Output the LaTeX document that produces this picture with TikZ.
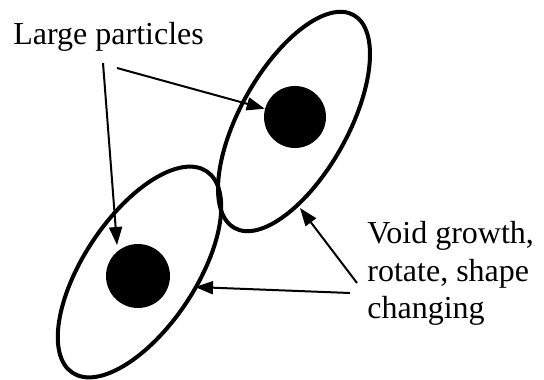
\documentclass[tikz,border=0pt]{standalone}
\usepackage{fontspec}
\setmainfont{Liberation Serif}
\usetikzlibrary{arrows.meta,shapes.geometric}

\begin{document}
\begin{tikzpicture}[
  x=0.5pt, y=-0.5pt,
  >={Triangle[length=9pt,width=6.5pt]},
  void/.style={draw, ellipse, line width=2pt, inner sep=0pt, outer sep=0pt},
  particle/.style={circle, fill=black, inner sep=0pt},
  lbl/.style={font=\fontsize{16}{18.75}\selectfont, inner sep=0pt, align=left},
  pointer/.style={->, line width=1pt}
]
\useasboundingbox (0,0) rectangle (544,379);
% voids and particles
\node[void, minimum width=122pt, minimum height=54pt, rotate=60.75] (upvoid) at (294,121.5) {};
\node[void, minimum width=121pt, minimum height=56pt, rotate=56.3] (lowvoid) at (139.5,272) {};
\node[particle, minimum size=31pt] (upparticle) at (295,117) {};
\node[particle, minimum size=32pt] (lowparticle) at (138,276) {};
% labels
\node[lbl, anchor=base west] (large) at (13,45) {Large particles};
\node[lbl, anchor=north west] (growth) at (367,221) {Void growth,\\rotate, shape\\changing};
% arrows
\coordinate (largeright) at (117,68);
\coordinate (largeleft) at (103,63);
\coordinate (lowtip) at (117,245);
\coordinate (growthup) at (357,283);
\coordinate (growthlow) at (350,293);
\coordinate (uptip) at (300,208);
\coordinate (sidetip) at (195,287);
\draw[pointer] (largeright) -- (upparticle);
\draw[pointer] (largeleft) -- (lowtip);
\draw[pointer] (growthup) -- (uptip);
\draw[pointer] (growthlow) -- (sidetip);
\end{tikzpicture}
\end{document}
